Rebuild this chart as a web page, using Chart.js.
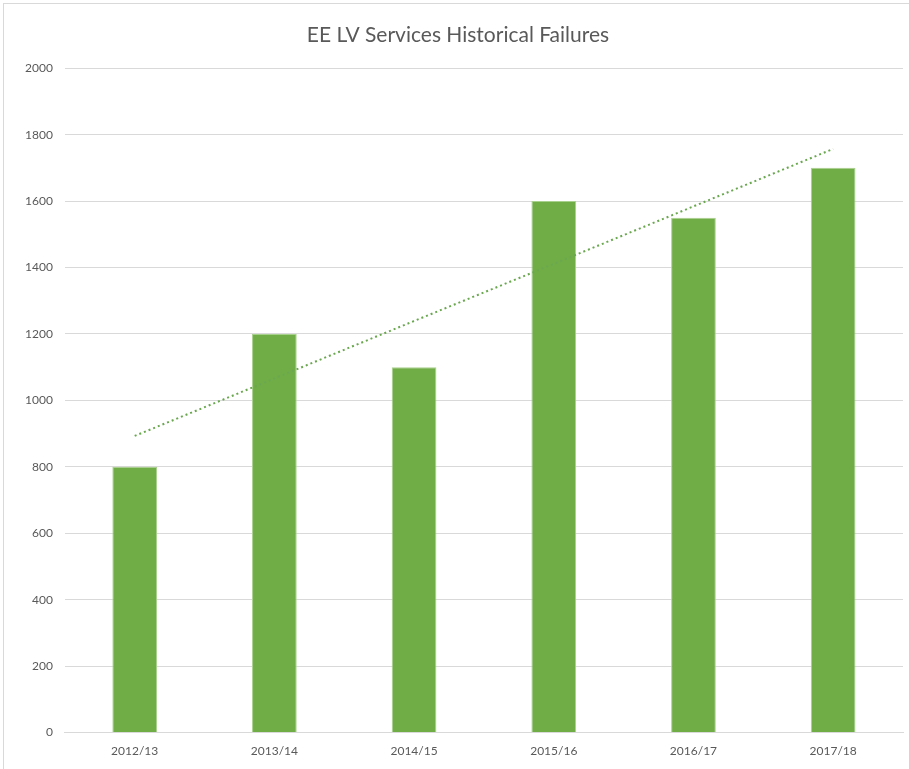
<!DOCTYPE html>
<html>
<head>
<meta charset="utf-8">
<script src="https://cdn.jsdelivr.net/npm/chart.js@4/dist/chart.umd.min.js"></script>
<style>
	html, body { margin: 0; padding: 0; background: #fff; }
	#wrap { position: absolute; left: 3px; top: 3px; width: 906px; height: 766px; border-left: 1px solid #d9d9d9; border-top: 1px solid #d9d9d9; box-sizing: border-box; }
	#failChart { display: block; }
</style>
</head>
<body>
<div id="wrap"><canvas id="failChart" width="905" height="765"></canvas></div>
<script>
// values
const years = ['2012/13', '2013/14', '2014/15', '2015/16', '2016/17', '2017/18'];
const failures = [800, 1200, 1100, 1600, 1550, 1700];
const trendValues = [893, 1066, 1239, 1411, 1584, 1757]; // dotted linear trendline
const yTicks = [0, 200, 400, 600, 800, 1000, 1200, 1400, 1600, 1800, 2000];

document.addEventListener("DOMContentLoaded", function () {
	const ctx = document.getElementById('failChart').getContext('2d');
	const txt = '#595959';
	const font = "Lato, 'Open Sans', sans-serif";

	new Chart(ctx, {
		data: {
			labels: years,
			datasets: [{
				type: 'line',
				label: 'Trend',
				data: trendValues,
				borderColor: '#6aa84f',
				borderWidth: 2,
				borderDash: [2, 3],
				pointRadius: 0,
				fill: false,
				tension: 0,
				order: 0
			}, {
				type: 'bar',
				label: 'Failures',
				data: failures,
				backgroundColor: '#70AD47',
				borderColor: '#a9d18e',
				borderWidth: 1,
				categoryPercentage: 1,
				barPercentage: 0.32,
				order: 1
			}]
		},
		options: {
			responsive: false,
			animation: false,
			layout: { padding: { left: 9, right: 6, top: 5, bottom: 8 } },
			plugins: {
				legend: { display: false },
				tooltip: { enabled: false },
				title: {
					display: true,
					text: 'EE LV Services Historical Failures',
					color: txt,
					font: { family: font, size: 21, weight: 'normal' },
					padding: { top: 14, bottom: 20 }
				}
			},
			scales: {
				x: {
					grid: { display: false },
					border: { color: '#d9d9d9', width: 1 },
					ticks: { color: txt, font: { family: font, size: 12 }, padding: 3, maxRotation: 0 }
				},
				y: {
					min: 0,
					max: 2000,
					afterBuildTicks: function (axis) {
						axis.ticks = yTicks.map(function (v) { return { value: v }; });
					},
					grid: { color: '#d9d9d9', lineWidth: 1, drawTicks: false },
					border: { display: false },
					ticks: {
						color: txt,
						font: { family: font, size: 12 },
						padding: 12,
						callback: function (v) { return String(v); }
					}
				}
			}
		}
	});
});
</script>
</body>
</html>
